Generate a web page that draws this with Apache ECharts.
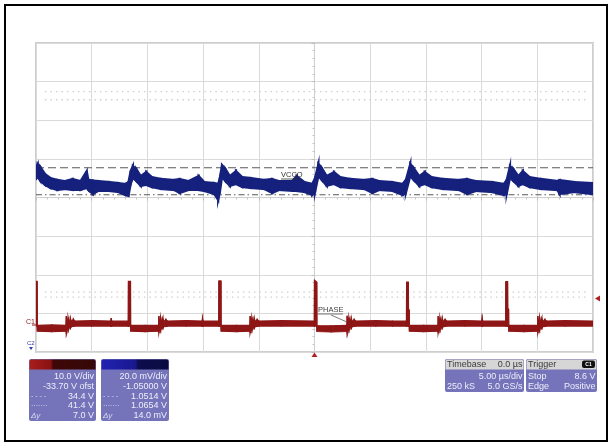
<!DOCTYPE html>
<html><head><meta charset="utf-8">
<script src="https://cdn.jsdelivr.net/npm/echarts@6/dist/echarts.min.js"></script>
<style>html,body{margin:0;padding:0;background:#fff}#c{width:612px;height:445px}</style>
</head><body><div id="c"></div>
<script>
// ---- scope settings (from the on-screen readouts) ----
const timePerDiv = 5;            // µs/div, 10 divisions, trigger at centre
const timeDivs = 10;
const vDivs = 8;
const ch1VoltsPerDiv = 10;       // V/div  (PHASE, red)
const ch1Offset = 33.70;         // -33.70 V ofst -> 33.70 V at screen centre
const ch2VoltsPerDiv = 0.02;     // 20.0 mV/div (VCCO, blue)
const ch2Offset = 1.05;          // -1.05000 V
const cursorLevelsCh2 = [1.0514, 1.0654];   // V
const triggerLevel = 8.6;        // V on ch1
const triggerTime = 0;           // µs
const dottedLevelsDiv = [2.74, 2.53, -2.45, -2.58];

// ---- VCCO (blue) envelope: [time µs, max V, min V] ----
const vccoTrace = [
  [-25.0, 1.0658, 1.0596], [-24.85, 1.0674, 1.0606], [-24.6, 1.0658, 1.0585], [-24.2, 1.0622, 1.0565],
  [-23.7, 1.0601, 1.0549], [-23.1, 1.0591, 1.0539], [-22.4, 1.0585, 1.0544], [-21.7, 1.0596, 1.0539],
  [-21.0, 1.0585, 1.0539], [-20.45, 1.0637, 1.0549], [-20.3, 1.0591, 1.0539], [-19.9, 1.0588, 1.0518],
  [-19.4, 1.0585, 1.0534], [-18.4, 1.0580, 1.0534], [-17.6, 1.0575, 1.0528], [-17.0, 1.0570, 1.0513],
  [-16.7, 1.0580, 1.0508],
  [-16.5, 1.0637, 1.0570], [-16.3, 1.0663, 1.0601], [-16.0, 1.0648, 1.0585], [-15.6, 1.0611, 1.0560],
  [-15.1, 1.0632, 1.0565], [-14.6, 1.0606, 1.0554], [-13.8, 1.0596, 1.0544], [-12.6, 1.0591, 1.0539],
  [-12.1, 1.0596, 1.0523], [-11.3, 1.0585, 1.0539], [-10.4, 1.0611, 1.0539], [-9.9, 1.0580, 1.0534],
  [-9.0, 1.0575, 1.0518], [-8.65, 1.0570, 1.0487],
  [-8.5, 1.0601, 1.0523], [-8.3, 1.0668, 1.0606], [-8.0, 1.0648, 1.0585],
  [-7.6, 1.0611, 1.0560], [-7.05, 1.0637, 1.0570], [-6.5, 1.0606, 1.0554], [-5.7, 1.0601, 1.0549],
  [-4.5, 1.0591, 1.0544], [-3.8, 1.0596, 1.0523], [-3.2, 1.0585, 1.0539], [-2.0, 1.0585, 1.0534],
  [-1.6, 1.0611, 1.0534], [-0.9, 1.0580, 1.0528],
  [-0.2, 1.0570, 1.0513], [0.05, 1.0601, 1.0528], [0.35, 1.0674, 1.0611], [0.65, 1.0653, 1.0591],
  [1.1, 1.0611, 1.0560], [1.75, 1.0632, 1.0570], [2.3, 1.0606, 1.0554], [3.2, 1.0596, 1.0549],
  [4.5, 1.0591, 1.0544], [5.2, 1.0596, 1.0523], [5.8, 1.0585, 1.0539], [7.0, 1.0580, 1.0534],
  [7.9, 1.0570, 1.0513],
  [8.2, 1.0591, 1.0523], [8.6, 1.0674, 1.0611], [8.9, 1.0653, 1.0591], [9.4, 1.0611, 1.0560],
  [9.9, 1.0632, 1.0570], [10.5, 1.0606, 1.0554], [11.5, 1.0596, 1.0544], [13.0, 1.0591, 1.0539],
  [13.7, 1.0596, 1.0518], [14.5, 1.0585, 1.0534], [16.0, 1.0580, 1.0528], [17.0, 1.0570, 1.0513],
  [17.25, 1.0591, 1.0518],
  [17.55, 1.0663, 1.0601], [17.85, 1.0648, 1.0585], [18.3, 1.0611, 1.0560], [18.7, 1.0637, 1.0570],
  [19.3, 1.0606, 1.0554], [20.3, 1.0596, 1.0544], [21.8, 1.0585, 1.0539], [22.0, 1.0590, 1.0518],
  [23.3, 1.0580, 1.0528], [25.0, 1.0575, 1.0518]
];

// ---- PHASE (red) envelope: [time µs, max V, min V] ----
const phaseTrace = [
  [-25.0, 12.0, 0.4], [-24.9, 12.0, 0.4], [-24.88, 0.6, -0.9], [-23.6, 0.7, -1.0], [-22.32, 0.6, -0.9],
  [-22.28, 3.0, -1.4], [-22.2, 1.0, -0.3], [-22.12, 2.7, -0.8], [-22.02, 1.3, 0.1], [-21.92, 2.4, -0.2],
  [-21.8, 1.6, 0.3], [-21.65, 2.2, 0.3], [-21.5, 1.7, 0.4], [-20.0, 1.8, 0.4], [-18.3, 1.7, 0.4],
  [-18.25, 2.5, 0.4], [-18.2, 1.7, 0.4], [-16.72, 1.7, 0.4],
  [-16.7, 12.0, 0.4], [-16.52, 12.0, 0.4], [-16.5, 0.6, -0.9], [-15.2, 0.6, -1.0], [-14.0, 0.6, -0.9],
  [-13.97, 3.0, -1.4], [-13.89, 1.0, -0.3], [-13.81, 2.7, -0.8], [-13.71, 1.3, 0.1], [-13.61, 2.4, -0.2],
  [-13.5, 1.6, 0.3], [-13.35, 2.1, 0.3], [-13.2, 1.7, 0.4], [-11.5, 1.8, 0.4], [-10.1, 1.7, 0.4],
  [-10.05, 2.4, 0.4], [-10.0, 1.7, 0.4], [-8.6, 1.7, 0.4],
  [-8.58, 12.1, 0.4], [-8.4, 12.1, 0.4], [-8.38, 0.6, -0.9], [-7.0, 0.6, -1.0], [-5.8, 0.6, -0.9],
  [-5.78, 3.0, -1.4], [-5.7, 1.0, -0.3], [-5.62, 2.7, -0.8], [-5.52, 1.3, 0.1], [-5.42, 2.4, -0.2],
  [-5.3, 1.6, 0.3], [-5.15, 2.1, 0.3], [-5.0, 1.7, 0.4], [-3.0, 1.8, 0.4], [-0.02, 1.7, 0.4],
  [0.0, 12.3, 0.4], [0.2, 11.8, 0.4], [0.22, 0.5, -1.0], [1.5, 0.5, -1.1], [2.9, 0.6, -1.0],
  [2.93, 3.1, -1.4], [3.01, 1.0, -0.3], [3.09, 2.7, -0.8], [3.19, 1.3, 0.1], [3.29, 2.4, -0.2],
  [3.4, 1.6, 0.3], [3.55, 2.1, 0.3], [3.7, 1.7, 0.4], [5.5, 1.8, 0.4], [7.0, 1.7, 0.4], [8.25, 1.7, 0.4],
  [8.27, 11.8, 0.4], [8.42, 11.8, 0.4], [8.44, 4.8, 0.4], [8.5, 4.6, 0.4], [8.52, 0.6, -0.9],
  [9.8, 0.6, -1.0], [11.08, 0.6, -0.9],
  [11.1, 3.0, -1.4], [11.18, 1.0, -0.3], [11.26, 2.7, -0.8], [11.36, 1.3, 0.1], [11.46, 2.4, -0.2],
  [11.57, 1.6, 0.3], [11.72, 2.1, 0.3], [11.87, 1.7, 0.4], [13.5, 1.8, 0.4], [15.0, 1.7, 0.4],
  [15.05, 2.4, 0.4], [15.1, 1.7, 0.4], [17.16, 1.7, 0.4],
  [17.18, 11.9, 0.4], [17.33, 11.9, 0.4], [17.35, 5.0, 0.4], [17.42, 4.8, 0.4], [17.44, 0.6, -0.9],
  [18.8, 0.6, -1.0], [20.03, 0.6, -0.9],
  [20.05, 3.0, -1.4], [20.13, 1.0, -0.3], [20.21, 2.7, -0.8], [20.31, 1.3, 0.1], [20.41, 2.4, -0.2],
  [20.52, 1.6, 0.3], [20.67, 2.1, 0.3], [20.82, 1.7, 0.4], [22.5, 1.8, 0.4], [25.0, 1.7, 0.4]
];

// ---- readout panels ----
const ch1Readout = ['10.0 V/div', '-33.70 V ofst', '34.4 V', '41.4 V', '7.0 V'];
const ch2Readout = ['20.0 mV/div', '-1.05000 V', '1.0514 V', '1.0654 V', '14.0 mV'];
const readoutMarks = ['', '', '- - - -', '·······', 'Δy'];
const timebaseHeader = ['Timebase', '0.0 µs'];
const timebaseRows = [['', '5.00 µs/div'], ['250 kS', '5.0 GS/s']];
const triggerHeader = 'Trigger';
const triggerRows = [['Stop', '8.6 V'], ['Edge', 'Positive']];
const traceNames = ['VCCO', 'PHASE'];

const RED = '#8e1616', BLUE = '#15217c';
const FONT = "'Liberation Sans Narrow','Liberation Sans',Arial,sans-serif";
const tMin = -timePerDiv * timeDivs / 2, tMax = timePerDiv * timeDivs / 2;

function band(trace, yAxisIndex, color, edge) {
  return {
    type: 'custom', xAxisIndex: 0, yAxisIndex, silent: true, animation: false, clip: true,
    data: trace, encode: { x: 0, y: [1, 2] }, z: 5,
    renderItem(params, api) {
      const i = params.dataIndex;
      if (i >= trace.length - 1) return null;
      const a = trace[i], b = trace[i + 1];
      const pts = [api.coord([a[0], a[1]]), api.coord([b[0], b[1]]), api.coord([b[0], b[2]]), api.coord([a[0], a[2]])];
      return { type: 'polygon', shape: { points: pts }, style: { fill: color, stroke: color, lineWidth: edge } };
    }
  };
}
function hLines(values, yAxisIndex, style, t0, t1) {
  return {
    type: 'custom', xAxisIndex: 0, yAxisIndex, silent: true, animation: false, z: 4,
    data: values.map(v => [0, v]), encode: { x: 0, y: 1 },
    renderItem(params, api) {
      const v = api.value(1);
      const p0 = api.coord([t0, v]), p1 = api.coord([t1, v]);
      return { type: 'line', shape: { x1: p0[0], y1: p0[1], x2: p1[0], y2: p1[1] }, style: Object.assign({ fill: null }, style) };
    }
  };
}

const chart = echarts.init(document.getElementById('c'), null, { renderer: 'canvas' });

function panel(x, w, header, lines) {
  const els = [];
  els.push({ type: 'rect', shape: { x, y: 359, width: w, height: 62, r: 2 }, style: { fill: '#7573b9' } });
  els.push({ type: 'rect', shape: { x: x + 0.5, y: 359.5, width: w - 1, height: 10, r: [2, 2, 0, 0] }, style: { fill: header } });
  lines.forEach((s, i) => {
    const y = 377 + i * 9.6;
    els.push({ type: 'text', x: x + w - 2, y, style: { text: s, fill: '#eeeefc', font: '9px ' + FONT, textAlign: 'right', textVerticalAlign: 'middle' } });
    if (readoutMarks[i]) els.push({ type: 'text', x: x + 2, y, style: { text: readoutMarks[i], fill: '#d8d8f4', font: (i === 4 ? 'italic 8px ' : '7px ') + FONT, textAlign: 'left', textVerticalAlign: 'middle' } });
  });
  return els;
}
function infoBox(x, w, headL, headR, rows) {
  const els = [];
  els.push({ type: 'rect', shape: { x, y: 359, width: w, height: 33, r: 2 }, style: { fill: '#7573b9' } });
  els.push({ type: 'rect', shape: { x: x + 0.5, y: 359.5, width: w - 1, height: 10, r: [2, 2, 0, 0] }, style: { fill: '#d6d6d6' } });
  els.push({ type: 'text', x: x + 2, y: 364.5, style: { text: headL, fill: '#3a3a3a', font: '9px ' + FONT, textVerticalAlign: 'middle' } });
  if (headR) els.push({ type: 'text', x: x + w - 1.5, y: 364.5, style: { text: headR, fill: '#3a3a3a', font: '9px ' + FONT, textAlign: 'right', textVerticalAlign: 'middle' } });
  rows.forEach((r, i) => {
    const y = 377 + i * 10;
    if (r[0]) els.push({ type: 'text', x: x + 2, y, style: { text: r[0], fill: '#eeeefc', font: '9px ' + FONT, textVerticalAlign: 'middle' } });
    els.push({ type: 'text', x: x + w - 1.5, y, style: { text: r[1], fill: '#eeeefc', font: '9px ' + FONT, textAlign: 'right', textVerticalAlign: 'middle' } });
  });
  return els;
}
const grad = (stops) => ({ type: 'linear', x: 0, y: 0, x2: 1, y2: 0, colorStops: stops });

const graphics = [].concat(
  [{ type: 'rect', shape: { x: 5, y: 5, width: 602, height: 436 }, style: { fill: null, stroke: '#000', lineWidth: 2 }, z: 100 }],
  panel(29, 67, grad([{ offset: 0, color: '#a81e1e' }, { offset: 0.32, color: '#8a1212' }, { offset: 0.36, color: '#3e0707' }, { offset: 1, color: '#360808' }]), ch1Readout),
  panel(101, 68, grad([{ offset: 0, color: '#2222b4' }, { offset: 0.5, color: '#18188e' }, { offset: 0.55, color: '#0d0d4e' }, { offset: 1, color: '#0b0b42' }]), ch2Readout),
  infoBox(445, 79, timebaseHeader[0], timebaseHeader[1], timebaseRows),
  infoBox(526, 71, triggerHeader, '', triggerRows),
  [
    { type: 'rect', shape: { x: 582, y: 360.5, width: 13, height: 7.5, r: 2 }, style: { fill: '#111' } },
    { type: 'text', x: 588.5, y: 364.5, style: { text: 'C1', fill: '#fff', font: 'bold 5px ' + FONT, textAlign: 'center', textVerticalAlign: 'middle' } },
    { type: 'text', x: 26, y: 322, style: { text: 'C1', fill: RED, font: '7px ' + FONT, textVerticalAlign: 'middle' } },
    { type: 'line', shape: { x1: 32, y1: 325, x2: 36, y2: 325 }, style: { stroke: RED, lineWidth: 1 } },
    { type: 'text', x: 27, y: 343, style: { text: 'C2', fill: '#2a3aa8', font: '6px ' + FONT, textVerticalAlign: 'middle' } },
    { type: 'polygon', shape: { points: [[29, 347], [33, 347], [31, 350]] }, style: { fill: '#2a3aa8' } },
    { type: 'text', x: 281, y: 175, style: { text: traceNames[0], fill: '#333', font: '7.5px ' + FONT, textVerticalAlign: 'middle' }, z: 50 },
    { type: 'line', shape: { x1: 281, y1: 179, x2: 300, y2: 179 }, style: { stroke: '#333', lineWidth: 0.8 }, z: 50 },
    { type: 'text', x: 318, y: 310, style: { text: traceNames[1], fill: '#444', font: '7.5px ' + FONT, textVerticalAlign: 'middle' }, z: 50 },
    { type: 'line', shape: { x1: 318, y1: 314, x2: 343, y2: 314 }, style: { stroke: '#555', lineWidth: 0.8 }, z: 50 },
    { type: 'line', shape: { x1: 331, y1: 315, x2: 347, y2: 322 }, style: { stroke: '#555', lineWidth: 0.8 }, z: 50 }
  ]
);

chart.setOption({
  animation: false,
  backgroundColor: '#fff',
  grid: { left: 36, top: 43, width: 557, height: 309, show: true, borderColor: '#cdcdcd', borderWidth: 2, backgroundColor: 'transparent' },
  xAxis: {
    type: 'value', min: tMin, max: tMax, interval: timePerDiv,
    axisLabel: { show: false },
    splitLine: { show: true, lineStyle: { color: '#dadada', width: 1 } },
    axisLine: { show: true, onZero: true, onZeroAxisIndex: 0, lineStyle: { color: '#cfcfcf' } },
    axisTick: { show: true, length: 3, lineStyle: { color: '#bdbdbd' } },
    minorTick: { show: true, splitNumber: 5, length: 2, lineStyle: { color: '#c4c4c4' } }
  },
  yAxis: [
    {
      type: 'value', min: -vDivs / 2, max: vDivs / 2, interval: 1,
      axisLabel: { show: false },
      splitLine: { show: true, lineStyle: { color: '#dadada', width: 1 } },
      axisLine: { show: true, onZero: true, lineStyle: { color: '#cfcfcf' } },
      axisTick: { show: true, length: 3, lineStyle: { color: '#bdbdbd' } },
      minorTick: { show: true, splitNumber: 5, length: 2, lineStyle: { color: '#c4c4c4' } }
    },
    { type: 'value', show: false, min: ch2Offset - ch2VoltsPerDiv * vDivs / 2, max: ch2Offset + ch2VoltsPerDiv * vDivs / 2, splitLine: { show: false } },
    { type: 'value', show: false, min: ch1Offset - ch1VoltsPerDiv * vDivs / 2, max: ch1Offset + ch1VoltsPerDiv * vDivs / 2, splitLine: { show: false } }
  ],
  series: [
    hLines(dottedLevelsDiv, 0, { stroke: '#cfcfcf', lineWidth: 1.4, lineDash: [1.5, 4] }, tMin + 0.8, tMax - 0.6),
    band(vccoTrace, 1, BLUE, 2.2),
    band(phaseTrace, 2, RED, 1.2),
    hLines([cursorLevelsCh2[1]], 1, { stroke: '#5a5a5a', lineWidth: 1.1, lineDash: [8, 4] }, tMin, tMax),
    hLines([cursorLevelsCh2[0]], 1, { stroke: '#5a5a5a', lineWidth: 1.1, lineDash: [6, 3, 1.5, 3] }, tMin, tMax),
    {
      type: 'custom', xAxisIndex: 0, yAxisIndex: 0, silent: true, animation: false, clip: false, z: 6,
      data: [[triggerTime, -vDivs / 2]], encode: { x: 0, y: 1 },
      renderItem(params, api) {
        const p = api.coord([api.value(0), api.value(1)]);
        return { type: 'polygon', shape: { points: [[p[0] - 3, p[1] + 5], [p[0] + 3, p[1] + 5], [p[0], p[1] + 0.5]] }, style: { fill: '#b02020' } };
      }
    },
    {
      type: 'custom', xAxisIndex: 0, yAxisIndex: 2, silent: true, animation: false, clip: false, z: 6,
      data: [[tMax, triggerLevel]], encode: { x: 0, y: 1 },
      renderItem(params, api) {
        const p = api.coord([api.value(0), api.value(1)]);
        return { type: 'polygon', shape: { points: [[p[0] + 2, p[1] + 4], [p[0] + 7, p[1] + 1], [p[0] + 7, p[1] + 7]] }, style: { fill: '#b02020' } };
      }
    }
  ],
  graphic: { elements: graphics }
});
</script>
</body></html>
